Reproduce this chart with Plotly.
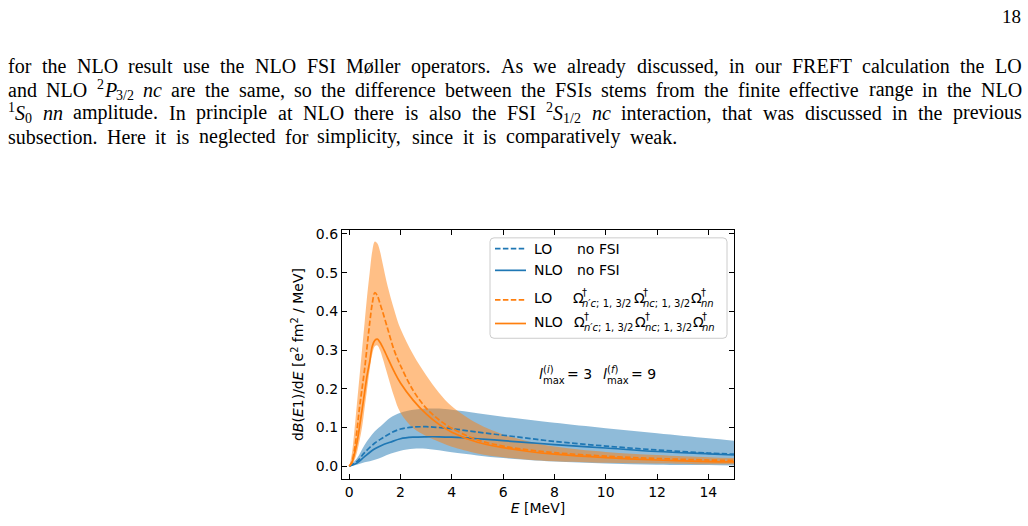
import plotly.graph_objects as go

# ---------------- data ----------------
E_blue = [0, 0.3, 0.6, 1.0, 1.3, 1.6, 2.0, 2.5, 3.0, 3.5, 4.0, 5.0, 6.0, 7.0, 8.0, 10.0, 12.0, 14.0, 15.0]
lo_nofsi = [0, 0.012, 0.035, 0.060, 0.073, 0.085, 0.096, 0.101, 0.102, 0.100, 0.097, 0.088, 0.080, 0.072, 0.064, 0.052, 0.042, 0.034, 0.031]
nlo_nofsi = [0, 0.008, 0.025, 0.045, 0.055, 0.062, 0.071, 0.075, 0.076, 0.076, 0.075, 0.071, 0.066, 0.061, 0.056, 0.047, 0.038, 0.032, 0.029]
nofsi_hi = [0, 0.020, 0.055, 0.090, 0.108, 0.125, 0.138, 0.146, 0.149, 0.149, 0.146, 0.137, 0.128, 0.120, 0.112, 0.098, 0.085, 0.072, 0.066]
nofsi_lo = [0, 0.004, 0.010, 0.017, 0.024, 0.032, 0.040, 0.045, 0.045, 0.041, 0.036, 0.028, 0.021, 0.016, 0.012, 0.007, 0.004, 0.003, 0.002]

E_orange = [0, 0.1, 0.2, 0.3, 0.4, 0.5, 0.6, 0.7, 0.8, 0.9, 1.0, 1.1, 1.2, 1.3, 1.5, 1.75, 2.0, 2.5, 3.0, 3.5, 4.0, 5.0, 6.0, 7.0, 8.0, 10.0, 12.0, 14.0, 15.0]
lo_fsi = [0, 0.010, 0.040, 0.090, 0.150, 0.200, 0.250, 0.310, 0.370, 0.420, 0.448, 0.440, 0.420, 0.400, 0.355, 0.300, 0.260, 0.195, 0.150, 0.120, 0.098, 0.068, 0.052, 0.042, 0.035, 0.026, 0.020, 0.016, 0.015]
nlo_fsi = [0, 0.008, 0.030, 0.060, 0.100, 0.145, 0.190, 0.235, 0.270, 0.310, 0.325, 0.328, 0.320, 0.308, 0.280, 0.245, 0.215, 0.170, 0.135, 0.108, 0.088, 0.062, 0.048, 0.038, 0.031, 0.022, 0.016, 0.012, 0.011]
fsi_hi = [0, 0.030, 0.090, 0.160, 0.230, 0.300, 0.370, 0.440, 0.500, 0.555, 0.580, 0.575, 0.555, 0.525, 0.465, 0.405, 0.355, 0.288, 0.235, 0.190, 0.155, 0.110, 0.082, 0.064, 0.051, 0.037, 0.029, 0.023, 0.021]
fsi_lo = [0, 0.004, 0.015, 0.035, 0.065, 0.100, 0.150, 0.200, 0.250, 0.290, 0.310, 0.312, 0.300, 0.280, 0.235, 0.180, 0.138, 0.098, 0.078, 0.063, 0.050, 0.033, 0.023, 0.017, 0.013, 0.009, 0.007, 0.005, 0.005]

x_ticks = [0, 2, 4, 6, 8, 10, 12, 14]
y_ticks = [0.0, 0.1, 0.2, 0.3, 0.4, 0.5, 0.6]

# page text: each word is a plain string or a list of (text, style) pieces
page_lines = [
    "for the NLO result use the NLO FSI Møller operators. As we already discussed, in our FREFT calculation the LO".split(" "),
    ["and", "NLO", [("2", "sup"), ("P", "i"), ("3/2", "sub")], [("nc", "i")]]
    + "are the same, so the difference between the FSIs stems from the finite effective range in the NLO".split(" "),
    [[("1", "sup"), ("S", "i"), ("0", "sub")], [("nn", "i")]]
    + "amplitude. In principle at NLO there is also the FSI".split(" ")
    + [[("2", "sup"), ("S", "i"), ("1/2", "sub")], [("nc", "i")]]
    + "interaction, that was discussed in the previous".split(" "),
    "subsection. Here it is neglected for simplicity, since it is comparatively weak.".split(" "),
]
page_number = "18"

# ---------------- layout geometry ----------------
FW, FH = 1028, 526
L, R, T, B = 342, 734, 230, 483
W, H = R - L, B - T


def px(x):
    return (x - L) / W


def py(y):
    return (B - y) / H


BLUE = "#1f77b4"
ORANGE = "#ff7f0e"
SANS = "DejaVu Sans"
SERIF = "Liberation Serif"
DASH = "5.5px,2.4px"

fig = go.Figure()

# bands
fig.add_trace(go.Scatter(x=E_blue, y=nofsi_hi, mode="lines", line=dict(width=0, shape="spline", color=BLUE),
                         showlegend=False, hoverinfo="skip"))
fig.add_trace(go.Scatter(x=E_blue, y=nofsi_lo, mode="lines", line=dict(width=0, shape="spline", color=BLUE),
                         fill="tonexty", fillcolor="rgba(31,119,180,0.5)", showlegend=False, hoverinfo="skip"))
fig.add_trace(go.Scatter(x=E_orange, y=fsi_hi, mode="lines", line=dict(width=0, shape="spline", color=ORANGE),
                         showlegend=False, hoverinfo="skip"))
fig.add_trace(go.Scatter(x=E_orange, y=fsi_lo, mode="lines", line=dict(width=0, shape="spline", color=ORANGE),
                         fill="tonexty", fillcolor="rgba(255,127,14,0.5)", showlegend=False, hoverinfo="skip"))

# lines
fig.add_trace(go.Scatter(x=E_blue, y=lo_nofsi, mode="lines", name="LO no FSI",
                         line=dict(color=BLUE, width=1.7, dash=DASH, shape="spline"), showlegend=False))
fig.add_trace(go.Scatter(x=E_blue, y=nlo_nofsi, mode="lines", name="NLO no FSI",
                         line=dict(color=BLUE, width=1.7, shape="spline"), showlegend=False))
fig.add_trace(go.Scatter(x=E_orange, y=lo_fsi, mode="lines", name="LO FSI",
                         line=dict(color=ORANGE, width=1.7, dash=DASH, shape="spline"), showlegend=False))
fig.add_trace(go.Scatter(x=E_orange, y=nlo_fsi, mode="lines", name="NLO FSI",
                         line=dict(color=ORANGE, width=1.7, shape="spline"), showlegend=False))

axis_common = dict(showline=True, linecolor="black", linewidth=1.2, mirror="ticks", ticks="inside",
                   ticklen=5, tickwidth=1.1, tickcolor="black", showgrid=False, zeroline=False,
                   tickfont=dict(family=SANS, size=14, color="black"))

fig.update_xaxes(range=[-0.28, 15.0], tickvals=x_ticks, ticktext=[str(v) for v in x_ticks],
                 title=dict(text="<i>E</i> [MeV]", font=dict(family=SANS, size=14, color="black"), standoff=4),
                 **axis_common)
fig.update_yaxes(range=[-0.033, 0.61], tickvals=y_ticks, ticktext=[f"{v:.1f}" for v in y_ticks],
                 title=dict(text="d<i>B</i>(<i>E</i>1)/d<i>E</i> [e<sup>2</sup> fm<sup>2</sup> / MeV]",
                            font=dict(family=SANS, size=14, color="black"), standoff=8),
                 **axis_common)

annotations = []
shapes = []

# ---------------- page text (justified with Times metrics) ----------------
TR = {' ': 250, 'a': 444, 'b': 500, 'c': 444, 'd': 500, 'e': 444, 'f': 333, 'g': 500, 'h': 500, 'i': 278,
      'j': 278, 'k': 500, 'l': 278, 'm': 778, 'n': 500, 'o': 500, 'p': 500, 'q': 500, 'r': 333, 's': 389,
      't': 278, 'u': 500, 'v': 500, 'w': 722, 'x': 500, 'y': 500, 'z': 444,
      'A': 722, 'B': 667, 'C': 667, 'D': 722, 'E': 611, 'F': 556, 'G': 722, 'H': 722, 'I': 333, 'J': 389,
      'K': 722, 'L': 611, 'M': 889, 'N': 722, 'O': 722, 'P': 556, 'Q': 722, 'R': 667, 'S': 556, 'T': 611,
      'U': 722, 'V': 722, 'W': 944, 'X': 722, 'Y': 722, 'Z': 611,
      '.': 250, ',': 250, ';': 278, ':': 278, '/': 278, '(': 333, ')': 333, 'ø': 500, '-': 333}
for d in "0123456789":
    TR[d] = 500
TI = dict(TR)
TI.update({'n': 500, 'c': 444, 'P': 611, 'S': 500})

FS = 20.0
SUBF = 0.7


def piece_width(text, style):
    tab = TI if style == "i" else TR
    scale = SUBF if style in ("sup", "sub") else 1.0
    return sum(tab.get(ch, 500) for ch in text) * FS / 1000.0 * scale


def word_pieces(w):
    return [(w, "r")] if isinstance(w, str) else w


line_centers = [63.5, 87.5, 111, 135]
line_x0 = [8, 8, 8, 8]
line_x1 = [1022, 1022, 1022, 677]
for words, yc, xa, xb in zip(page_lines, line_centers, line_x0, line_x1):
    widths = [sum(piece_width(t, s) for t, s in word_pieces(w)) for w in words]
    gap = (xb - xa - sum(widths)) / (len(words) - 1)
    x = xa
    for w, ww in zip(words, widths):
        xx = x
        for t, s in word_pieces(w):
            if s == "sup":
                fsz, yy, ital = FS * SUBF, yc - 5.5, False
            elif s == "sub":
                fsz, yy, ital = FS * SUBF, yc + 5.5, False
            else:
                fsz, yy, ital = FS, yc, s == "i"
            txt = f"<i>{t}</i>" if ital else t
            annotations.append(dict(x=px(xx), y=py(yy), xref="paper", yref="paper", text=txt, showarrow=False,
                                    xanchor="left", yanchor="middle", borderpad=0, borderwidth=0,
                                    font=dict(family=SERIF, size=fsz, color="black")))
            xx += piece_width(t, s)
        x += ww + gap

annotations.append(dict(x=px(1021), y=py(13), xref="paper", yref="paper", text=page_number, showarrow=False,
                        xanchor="right", yanchor="middle", borderpad=0, borderwidth=0,
                        font=dict(family=SERIF, size=19, color="black")))

# ---------------- legend (drawn manually) ----------------
lx0, lx1, ly0, ly1 = 490, 727, 238, 340
r = 4
rx, ry = r / W, r / H
x0, x1, y0, y1 = px(lx0), px(lx1), py(ly1), py(ly0)
path = (f"M {x0+rx},{y0} L {x1-rx},{y0} Q {x1},{y0} {x1},{y0+ry} L {x1},{y1-ry} Q {x1},{y1} {x1-rx},{y1} "
        f"L {x0+rx},{y1} Q {x0},{y1} {x0},{y1-ry} L {x0},{y0+ry} Q {x0},{y0} {x0+rx},{y0} Z")
shapes.append(dict(type="path", path=path, xref="paper", yref="paper", line=dict(color="#cccccc", width=1),
                   fillcolor="rgba(255,255,255,0.8)", layer="above"))

rows = [
    (249, BLUE, DASH, "LO", True),
    (271, BLUE, "solid", "NLO", True),
    (299, ORANGE, DASH, "LO", False),
    (323, ORANGE, "solid", "NLO", False),
]
TF = dict(family=SANS, size=14, color="black")
SF = dict(family=SANS, size=10, color="black")
for yy, col, dash, lab, nofsi in rows:
    ly_line = yy + 2 if not nofsi else yy
    shapes.append(dict(type="line", x0=px(495), x1=px(526), y0=py(ly_line), y1=py(ly_line), xref="paper", yref="paper",
                       line=dict(color=col, width=1.7, dash=dash), layer="above"))
    annotations.append(dict(x=px(532), y=py(yy), xref="paper", yref="paper", text=lab, showarrow=False,
                            xanchor="left", yanchor="middle", font=TF))
    if nofsi:
        annotations.append(dict(x=px(575), y=py(yy), xref="paper", yref="paper", text="no FSI", showarrow=False,
                                xanchor="left", yanchor="middle", font=TF))
    else:
        x_om = 570.5 if lab == "LO" else 572
        parts = [(0.0, "<i>n′c</i>; 1, 3/2"), (61.0, "<i>nc</i>; 1, 3/2"), (118.5, "<i>nn</i>")]
        for dx, sub in parts:
            xo = x_om + dx
            annotations.append(dict(x=px(xo), y=py(yy), xref="paper", yref="paper", text="Ω", showarrow=False,
                                    xanchor="left", yanchor="middle", font=TF))
            annotations.append(dict(x=px(xo + 9.5), y=py(yy - 5), xref="paper", yref="paper", text="†",
                                    showarrow=False, xanchor="left", yanchor="middle", font=SF))
            annotations.append(dict(x=px(xo + 9.5), y=py(yy + 6), xref="paper", yref="paper", text=sub,
                                    showarrow=False, xanchor="left", yanchor="middle", font=SF))

# ---------------- l_max annotation ----------------
lyv = 376
for xl, sup, val in [(537, "(<i>i</i>)", "= 3"), (601, "(<i>f</i>)", "= 9")]:
    annotations.append(dict(x=px(xl), y=py(lyv), xref="paper", yref="paper", text="<i>l</i>", showarrow=False,
                            xanchor="left", yanchor="middle", font=TF))
    annotations.append(dict(x=px(xl + 4), y=py(lyv - 4), xref="paper", yref="paper", text=sup, showarrow=False,
                            xanchor="left", yanchor="middle", font=SF))
    annotations.append(dict(x=px(xl + 4), y=py(lyv + 7), xref="paper", yref="paper", text="max", showarrow=False,
                            xanchor="left", yanchor="middle", font=SF))
    annotations.append(dict(x=px(xl + 28), y=py(lyv), xref="paper", yref="paper", text=val, showarrow=False,
                            xanchor="left", yanchor="middle", font=TF))

fig.update_layout(width=FW, height=FH, margin=dict(l=L, r=FW - R, t=T, b=FH - B),
                  paper_bgcolor="white", plot_bgcolor="white", showlegend=False,
                  annotations=annotations, shapes=shapes)

fig.write_html("out.html")
